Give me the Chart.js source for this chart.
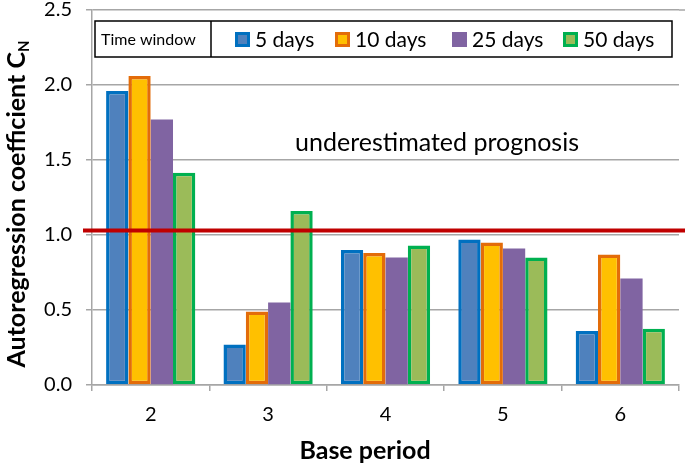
<!DOCTYPE html>
<html>
<head>
<meta charset="utf-8">
<script src="https://cdn.jsdelivr.net/npm/chart.js@4"></script>
<style>
  html, body { margin: 0; padding: 0; background: #fff; }
  #wrap { width: 685px; height: 465px; }
</style>
</head>
<body>
<div id="wrap"><canvas id="chartCanvas"></canvas></div>
<script>
// Chart data
var categories = ["2", "3", "4", "5", "6"];
var seriesLabels = ["5 days", "10 days", "25 days", "50 days"];
var days5 = [1.96, 0.27, 0.90, 0.97, 0.36];
var days10 = [2.06, 0.49, 0.88, 0.95, 0.87];
var days25 = [1.77, 0.55, 0.85, 0.91, 0.71];
var days50 = [1.415, 1.16, 0.93, 0.85, 0.375];
var threshold = 1.03;
var yTicks = [0, 0.5, 1.0, 1.5, 2.0, 2.5];

var fillColors = ["#4F81BD", "#FFC000", "#8064A2", "#9BBB59"];
var borderColors = ["#0070C0", "#E36C09", "#8064A2", "#00B050"];
var fontName = "Lato, 'Noto Sans', sans-serif";
var gridColor = "#A6A6A6";

function makeSet(i, values) {
	return {
		label: seriesLabels[i],
		data: values,
		backgroundColor: fillColors[i],
		borderColor: borderColors[i],
		borderWidth: i == 2 ? 0 : 3.5,
		borderSkipped: false,
		categoryPercentage: 0.76,
		barPercentage: 1.0
	};
}

// Custom drawing: threshold line, legend box, titles
var extras = {
	id: "extras",
	afterDatasetsDraw: function(chart) {
		var ctx = chart.ctx;
		var y = chart.scales.y;
		var area = chart.chartArea;

		// top border extension
		ctx.save();
		ctx.strokeStyle = gridColor;
		ctx.lineWidth = 1.5;
		ctx.beginPath();
		ctx.moveTo(area.right, y.getPixelForValue(2.5));
		ctx.lineTo(chart.width, y.getPixelForValue(2.5));
		ctx.stroke();

		// threshold line
		var ty = y.getPixelForValue(threshold);
		ctx.strokeStyle = "#C00000";
		ctx.lineWidth = 4;
		ctx.beginPath();
		ctx.moveTo(area.left - 9, ty);
		ctx.lineTo(chart.width, ty);
		ctx.stroke();

		// annotation
		ctx.fillStyle = "#000";
		ctx.font = "25px " + fontName;
		ctx.textAlign = "center";
		ctx.textBaseline = "alphabetic";
		ctx.fillText("underestimated prognosis", 437, 151);

		// legend box
		ctx.fillStyle = "#fff";
		ctx.fillRect(95, 21, 577, 36);
		ctx.strokeStyle = "#000";
		ctx.lineWidth = 1.5;
		ctx.strokeRect(95, 21, 577, 36);
		ctx.beginPath();
		ctx.moveTo(211, 21);
		ctx.lineTo(211, 57);
		ctx.stroke();
		ctx.fillStyle = "#000";
		ctx.font = "16px " + fontName;
		ctx.textAlign = "left";
		ctx.textBaseline = "middle";
		ctx.fillText("Time window", 101, 39.5);

		var itemX = [235, 335, 452, 563];
		ctx.font = "21px " + fontName;
		for (var i = 0; i < seriesLabels.length; i++) {
			ctx.fillStyle = borderColors[i];
			ctx.fillRect(itemX[i], 32, 15, 15);
			ctx.fillStyle = fillColors[i];
			ctx.fillRect(itemX[i] + 3, 35, 9, 9);
			ctx.fillStyle = "#000";
			ctx.fillText(seriesLabels[i], itemX[i] + 20, 40);
		}

		// x axis title
		ctx.font = "bold 25px " + fontName;
		ctx.textAlign = "center";
		ctx.textBaseline = "alphabetic";
		ctx.fillText("Base period", 365, 459);

		// y axis title with subscript
		ctx.translate(25, 204);
		ctx.rotate(-Math.PI / 2);
		var main = "Autoregression coefficient C";
		ctx.font = "bold 25px " + fontName;
		var w1 = ctx.measureText(main).width;
		ctx.font = "bold 15px " + fontName;
		var w2 = ctx.measureText("N").width;
		var start = -(w1 + w2) / 2;
		ctx.textAlign = "left";
		ctx.font = "bold 25px " + fontName;
		ctx.fillText(main, start, 0);
		ctx.font = "bold 15px " + fontName;
		ctx.fillText("N", start + w1, 4);
		ctx.restore();
	}
};

var chartCtx = document.getElementById("chartCanvas").getContext("2d");
var chart = new Chart(chartCtx, {
	type: "bar",
	data: {
		labels: categories,
		datasets: [makeSet(0, days5), makeSet(1, days10), makeSet(2, days25), makeSet(3, days50)]
	},
	options: {
		responsive: true,
		maintainAspectRatio: false,
		animation: false,
		layout: { padding: { top: 10, right: 6, left: 0, bottom: 0 } },
		plugins: {
			legend: { display: false },
			tooltip: { enabled: false }
		},
		scales: {
			x: {
				offset: true,
				grid: {
					offset: true,
					drawOnChartArea: false,
					color: gridColor,
					lineWidth: 1.5,
					tickLength: 6
				},
				border: { color: gridColor, width: 1.5 },
				ticks: {
					color: "#000",
					font: { family: fontName, size: 20 },
					padding: 12
				},
				afterFit: function(s) { s.height = 80; s.paddingLeft = 0; s.paddingRight = 0; }
			},
			y: {
				min: 0,
				max: 2.5,
				afterBuildTicks: function(s) {
					s.ticks = yTicks.map(function(v) { return { value: v }; });
				},
				grid: {
					color: gridColor,
					lineWidth: 1.5,
					tickLength: 6
				},
				border: { color: gridColor, width: 1.5 },
				ticks: {
					color: "#000",
					font: { family: fontName, size: 20 },
					padding: 14,
					callback: function(v) { return Number(v).toFixed(1); }
				},
				afterFit: function(s) { s.width = 92; s.paddingTop = 0; s.paddingBottom = 0; }
			}
		}
	},
	plugins: [extras]
});
</script>
</body>
</html>
